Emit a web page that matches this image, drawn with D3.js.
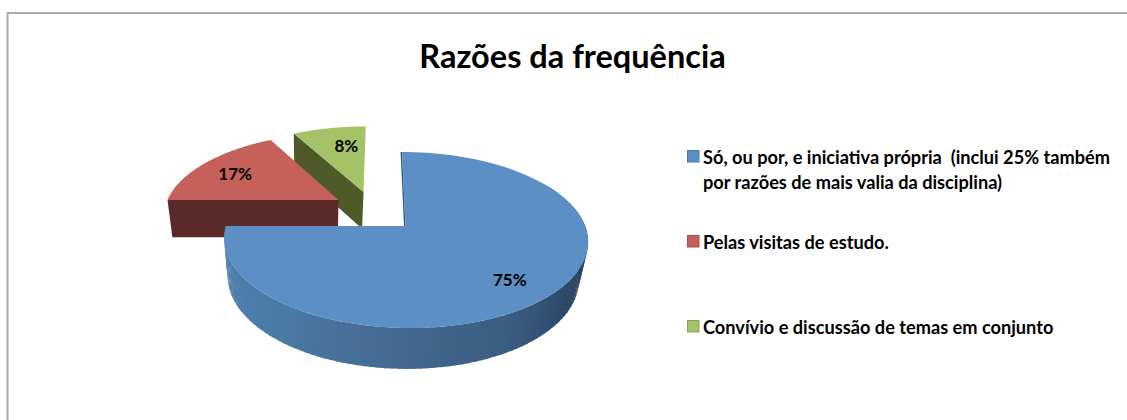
<!DOCTYPE html>
<html><head><meta charset="utf-8">
<script src="https://cdn.jsdelivr.net/npm/d3@7"></script>
<style>html,body{margin:0;padding:0;background:#fff}svg{display:block}text{font-family:Lato,"Open Sans",sans-serif;font-weight:700;fill:#000;white-space:pre}</style>
</head><body><svg id="c" width="1127" height="420"></svg>
<script>
const title = "Razões da frequência";
const categories = ["Só, ou por, e iniciativa própria  (inclui 25% também|por razões de mais valia da disciplina)", "Pelas visitas de estudo.", "Convívio e discussão de temas em conjunto"];
const values = [75, 17, 8];
const labels = ["75%", "17%", "8%"];
const faceColors = ["#5b8fc5", "#c5605b", "#a5c266"];
const wallColors = ["#4a7dab", "#5c2a26", "#4e5a27"];
const explodeU = [0, -0.385, -0.24];
const explodeV = [0, -0.318, -0.423];
const labelFrac = [0.77, 0.74, 0.68];
const labelTurn = [3, -2, 4];

const W = 1127, H = 420;
const svg = d3.select("#c");
svg.append("path").attr("d", d3.line()([[W, 13], [7.5, 13], [7.5, H]])).attr("fill", "none").attr("stroke", "#aaaaaa").attr("stroke-width", 2);
svg.append("text").attr("x", 572.5).attr("y", 68).attr("text-anchor", "middle").attr("font-size", 32.5).text(title);

// perspective projection of the pie plane: u right, v toward viewer, h down
const cx = 405.5, cy = 226, R = 179.6, A = 85.8, k = 0.159, m = 0.035, Hh = 39.4, vx = -25, sx = -2;
function project(u, v, h) {
  const s = 1 / (1 - k * v + m * h);
  return [cx + R * u * s + vx * (1 - s) + sx * h, cy + (A * v + Hh * h) * s];
}
const pie = d3.pie().sort(null).value(d => d).startAngle(0).endAngle(2 * Math.PI);
const arcs = pie(values);
const line = d3.line();
function rim(i, a, h, f = 1) {
  return project(explodeU[i] + f * Math.sin(a), explodeV[i] - f * Math.cos(a), h);
}
function apex(i, h) { return project(explodeU[i], explodeV[i], h); }
function faceD(i) {
  const d = arcs[i], n = 120, pts = [apex(i, 0)];
  d3.range(n + 1).forEach(j => pts.push(rim(i, d.startAngle + (d.endAngle - d.startAngle) * j / n, 0)));
  return line(pts) + "Z";
}
const g = svg.append("g");

[2, 1].forEach(i => {
  const d = arcs[i];
  g.append("path").attr("d", line([rim(i, d.startAngle, 0), apex(i, 0), apex(i, 1), rim(i, d.startAngle, 1)]) + "Z").attr("fill", wallColors[i]);
  g.append("path").attr("d", faceD(i)).attr("fill", faceColors[i]);
});

const deg = Math.PI / 180;
const shade = d3.scaleLinear().domain([60, 115, 150, 180, 215, 270].map(x => x * deg))
  .range(["#27415c", "#28425d", "#3b5c83", "#44688f", "#4a79a5", "#5085b5"]);
const nSeg = 105, a0 = 60 * deg, a1 = arcs[0].endAngle;
d3.range(nSeg).forEach(j => {
  const p = a0 + (a1 - a0) * j / nSeg, q = a0 + (a1 - a0) * (j + 1.25) / nSeg;
  g.append("path").attr("d", line([rim(0, p, 0), rim(0, Math.min(q, a1), 0), rim(0, Math.min(q, a1), 1), rim(0, p, 1)]) + "Z").attr("fill", shade(p));
});
g.append("path").attr("d", faceD(0)).attr("fill", faceColors[0]);
g.append("path").attr("d", line([rim(0, 0, 0), apex(0, 0)])).attr("stroke", "#2f5a80").attr("stroke-width", 1.4).attr("fill", "none").attr("transform", "translate(-0.8,0)");

arcs.forEach((d, i) => {
  const mid = (d.startAngle + d.endAngle) / 2 + labelTurn[i] * deg;
  const p = rim(i, mid, 0, labelFrac[i]);
  svg.append("text").attr("x", p[0]).attr("y", p[1] + 6).attr("text-anchor", "middle").attr("font-size", 17).text(labels[i]);
});

const legendY = d3.scalePoint().domain(d3.range(categories.length)).range([150, 320]);
categories.forEach((c, i) => {
  const y = legendY(i);
  svg.append("rect").attr("x", 687.5).attr("y", y + 0.5).attr("width", 11.5).attr("height", 11.5)
    .attr("fill", faceColors[i]).attr("stroke", d3.color(faceColors[i]).darker(0.5)).attr("stroke-width", 1);
  c.split("|").forEach((t, j) => svg.append("text").attr("x", 703).attr("y", y + 13.5 + j * 25).attr("font-size", 18.2).text(t));
});
</script></body></html>
